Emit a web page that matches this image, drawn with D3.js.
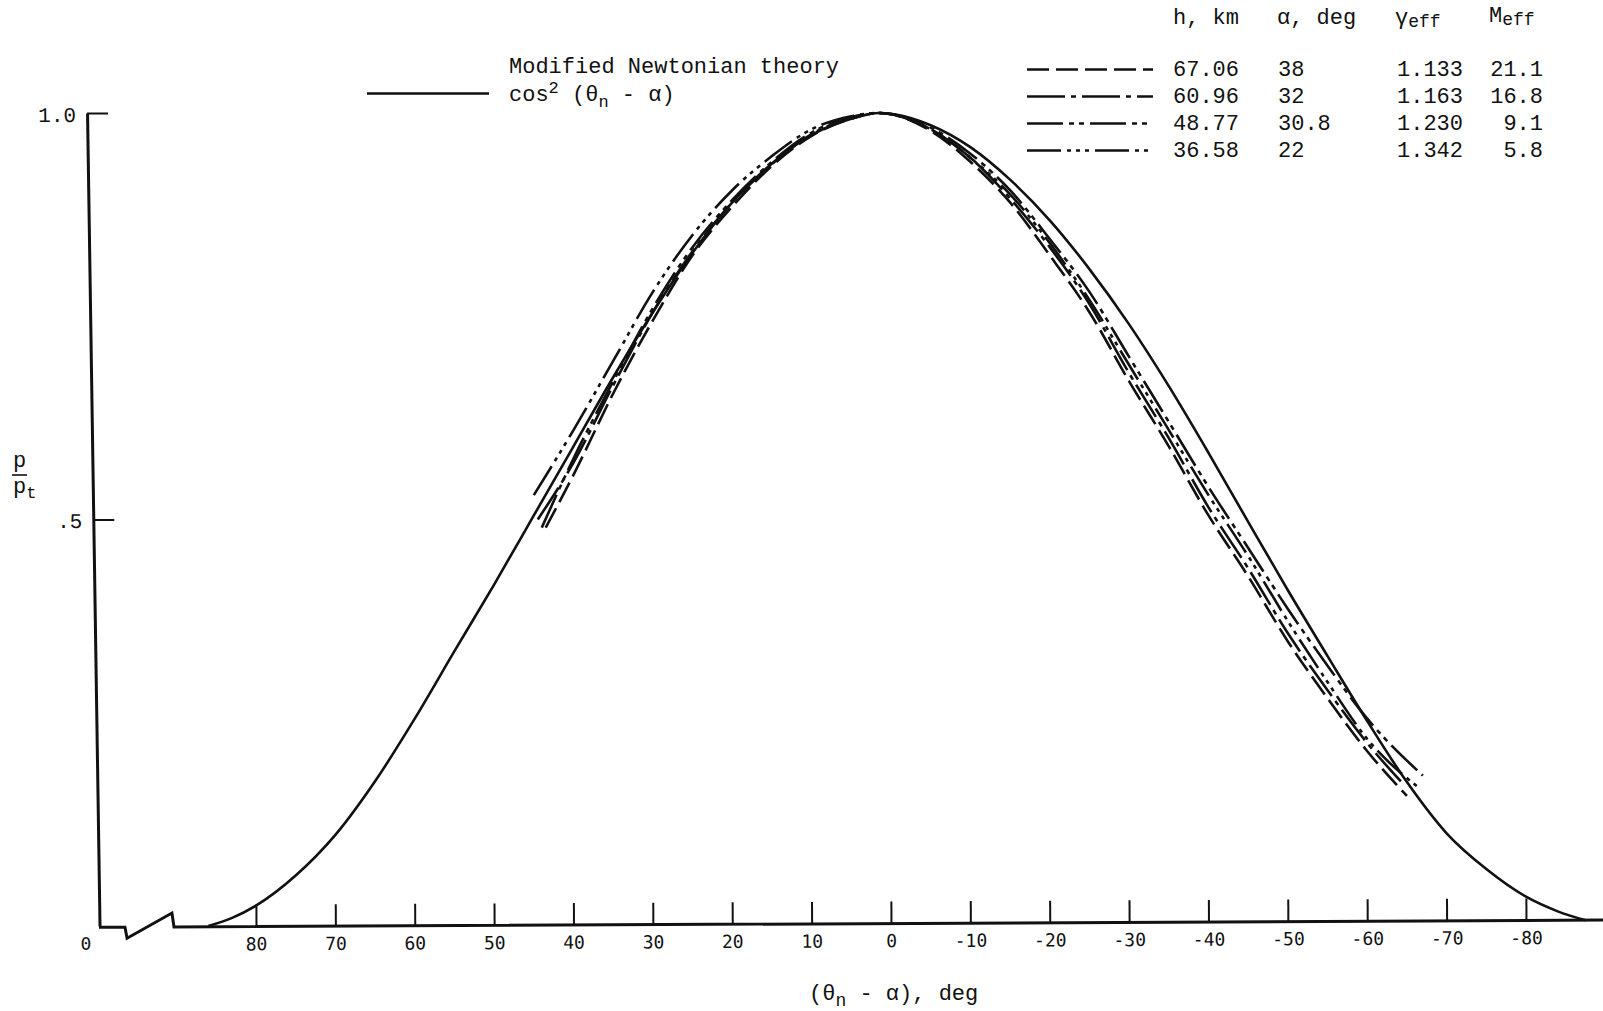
<!DOCTYPE html>
<html>
<head>
<meta charset="utf-8">
<script src="https://cdn.jsdelivr.net/npm/d3@7"></script>
<style>
  body { margin: 0; background: #fff; }
  svg { display: block; }
  .mono { font-family: "Liberation Mono", "DejaVu Sans Mono", monospace; fill: #111; }
  .xaxis text, .zero { font-family: "DejaVu Sans Mono", monospace; font-size: 18px; fill: #111; }
  .yaxis text { font-family: "Liberation Mono", monospace; font-size: 21px; fill: #111; }
  .xaxis line, .yaxis line { stroke: #111; stroke-width: 2; }
  .curve { fill: none; stroke: #111; stroke-width: 2.6; stroke-linecap: butt; }
</style>
</head>
<body>
<svg id="chart" width="1603" height="1011"></svg>
<script>
// modified newtonian, cos^2 (theta_n - alpha)
var theoryDeg = [86, 83, 80, 75, 70, 65, 60, 55, 50, 45, 40, 35, 30, 25, 20, 15, 10, 5, 1.5, -5, -10, -15, -20, -25, -30, -35, -40, -45, -50, -55, -60, -65, -70, -75, -80, -84, -87.5];
var theoryP   = [0, 0.01, 0.025, 0.062, 0.112, 0.178, 0.255, 0.338, 0.42, 0.505, 0.59, 0.675, 0.755, 0.828, 0.89, 0.938, 0.973, 0.993, 1.0, 0.985, 0.958, 0.918, 0.868, 0.808, 0.74, 0.664, 0.582, 0.497, 0.413, 0.332, 0.252, 0.177, 0.114, 0.07, 0.036, 0.018, 0.007];

// measured runs
var degS1 = [43.5, 40, 35, 30, 25, 20, 15, 10, 5, 1.5, -5, -10, -15, -20, -25, -30, -35, -40, -45, -50, -55, -60, -65];
var pS1   = [0.49, 0.555, 0.655, 0.745, 0.825, 0.885, 0.935, 0.972, 0.993, 1.0, 0.978, 0.94, 0.89, 0.825, 0.755, 0.67, 0.59, 0.505, 0.43, 0.35, 0.28, 0.215, 0.16];
var degS2 = [44.5, 40, 35, 30, 25, 20, 15, 10, 5, 1.5, -5, -10, -15, -20, -25, -30, -35, -40, -45, -50, -55, -60, -64.5];
var pS2   = [0.5, 0.57, 0.665, 0.755, 0.83, 0.89, 0.937, 0.974, 0.994, 1.0, 0.98, 0.945, 0.895, 0.835, 0.765, 0.68, 0.6, 0.515, 0.44, 0.36, 0.29, 0.225, 0.175];
var degS3 = [44, 40, 35, 30, 25, 20, 15, 10, 5, 1.5, -5, -10, -15, -20, -25, -30, -35, -40, -45, -50, -55, -60, -67];
var pS3   = [0.49, 0.575, 0.67, 0.76, 0.835, 0.893, 0.94, 0.976, 0.995, 1.0, 0.982, 0.95, 0.905, 0.845, 0.78, 0.7, 0.62, 0.54, 0.465, 0.39, 0.32, 0.255, 0.185];
var degS4 = [45, 40, 35, 30, 25, 20, 15, 10, 5, 1.5, -5, -10, -15, -20, -25, -30, -35, -40, -45, -50, -55, -60, -66.5];
var pS4   = [0.53, 0.61, 0.695, 0.78, 0.85, 0.905, 0.947, 0.98, 0.996, 1.0, 0.98, 0.945, 0.9, 0.84, 0.77, 0.69, 0.61, 0.53, 0.455, 0.375, 0.3, 0.23, 0.17];

var altitudes = ["67.06", "60.96", "48.77", "36.58"];
var alphas    = ["38", "32", "30.8", "22"];
var gammas    = ["1.133", "1.163", "1.230", "1.342"];
var machs     = ["21.1", "16.8", "9.1", "5.8"];

var xTicks = [80, 70, 60, 50, 40, 30, 20, 10, 0, -10, -20, -30, -40, -50, -60, -70, -80];
var yTicks = [0.5, 1.0];

var dashes = ["22,7", "38,6,5,6", "36,6,5,5,5,6", "34,6,4,5,4,5,4,6"];

var svg = d3.select("#chart");

var x = d3.scaleLinear().domain([80, -80]).range([256, 1526]);
var y = d3.scaleLinear().domain([0, 1]).range([926, 113]);

var line = d3.line()
  .x(function (d) { return x(d[0]); })
  .y(function (d) { return y(d[1]); })
  .curve(d3.curveMonotoneX);

// x axis, drawn a hair off level like the original sheet
var gx = svg.append("g")
  .attr("class", "xaxis")
  .attr("transform", "translate(0,927) rotate(-0.28,175,0)");

gx.call(d3.axisBottom(x)
    .tickValues(xTicks)
    .tickFormat(function (d) { return String(d); })
    .tickSizeInner(-22)
    .tickSizeOuter(0)
    .tickPadding(11))
  .select(".domain").remove();

gx.append("path")
  .attr("d", "M99,0H125L127,11L172,-14L174,0H1603")
  .attr("fill", "none")
  .attr("stroke", "#111")
  .attr("stroke-width", 3)
  .attr("stroke-linejoin", "miter");

svg.append("text")
  .attr("class", "zero")
  .attr("x", 86).attr("y", 950)
  .attr("text-anchor", "middle")
  .text("0");

// y axis, slightly leaning
var gy = svg.append("g")
  .attr("class", "yaxis")
  .attr("transform", "translate(85.3,0) skewX(0.88)");

gy.call(d3.axisLeft(y)
    .tickValues(yTicks)
    .tickFormat(function (d) { return d === 1 ? "1.0" : ".5"; })
    .tickSizeInner(-21)
    .tickSizeOuter(0)
    .tickPadding(11));
gy.select(".domain").attr("stroke", "#111").attr("stroke-width", 3);
gy.selectAll(".tick text").attr("dy", "0.4em");

// y label  p / p_t
var yl = svg.append("g").attr("class", "mono").style("font-size", "22px");
yl.append("text").attr("x", 13).attr("y", 467).text("p");
yl.append("line").attr("x1", 12).attr("x2", 27).attr("y1", 475).attr("y2", 475)
  .attr("stroke", "#111").attr("stroke-width", 1.6);
var pt = yl.append("text").attr("x", 13).attr("y", 493);
pt.append("tspan").text("p");
pt.append("tspan").attr("dy", 5).style("font-size", "17px").text("t");

// x label
var xl = svg.append("text").attr("class", "mono").style("font-size", "22px")
  .attr("x", 809).attr("y", 1000);
xl.append("tspan").text("(\u03b8");
xl.append("tspan").attr("dy", 6).style("font-size", "18px").text("n");
xl.append("tspan").attr("dy", -6).text(" - \u03b1), deg");

// curves
svg.append("path")
  .datum(d3.zip(theoryDeg, theoryP))
  .attr("class", "curve")
  .attr("d", line);

var runDeg = [degS1, degS2, degS3, degS4];
var runP = [pS1, pS2, pS3, pS4];

svg.selectAll("path.run")
  .data(d3.range(4))
  .enter().append("path")
  .attr("class", "curve run")
  .attr("stroke-dasharray", function (i) { return dashes[i]; })
  .attr("d", function (i) { return line(d3.zip(runDeg[i], runP[i])); });

// legend: theory
svg.append("line")
  .attr("x1", 367).attr("x2", 489).attr("y1", 93.5).attr("y2", 93.5)
  .attr("stroke", "#111").attr("stroke-width", 2.6);
var lg = svg.append("g").attr("class", "mono").style("font-size", "22px");
lg.append("text").attr("x", 509).attr("y", 73).text("Modified Newtonian theory");
var cosT = lg.append("text").attr("x", 509).attr("y", 101);
cosT.append("tspan").text("cos");
cosT.append("tspan").attr("dy", -8).style("font-size", "17px").text("2");
cosT.append("tspan").attr("dy", 8).text(" (\u03b8");
cosT.append("tspan").attr("dy", 6).style("font-size", "17px").text("n");
cosT.append("tspan").attr("dy", -6).text(" - \u03b1)");

// legend: runs table
var tb = svg.append("g").attr("class", "mono").style("font-size", "22px");
tb.append("text").attr("x", 1173).attr("y", 24).text("h, km");
tb.append("text").attr("x", 1277).attr("y", 24).text("\u03b1, deg");
var gh = tb.append("text").attr("x", 1395).attr("y", 24);
gh.append("tspan").text("\u03b3");
gh.append("tspan").attr("dy", 3).style("font-size", "18px").text("eff");
var mh = tb.append("text").attr("x", 1489).attr("y", 22);
mh.append("tspan").text("M");
mh.append("tspan").attr("dy", 3).style("font-size", "18px").text("eff");

var rowY = d3.scaleLinear().domain([0, 3]).range([76, 157]);

var rows = tb.selectAll("g.row")
  .data(d3.range(4))
  .enter().append("g")
  .attr("class", "row")
  .attr("transform", function (i) { return "translate(0," + rowY(i) + ")"; });

rows.append("line")
  .attr("x1", 1027).attr("x2", 1153).attr("y1", -6.5).attr("y2", -6.5)
  .attr("stroke", "#111").attr("stroke-width", 2.6)
  .attr("stroke-dasharray", function (i) { return dashes[i]; });
rows.append("text").attr("x", 1173).text(function (i) { return altitudes[i]; });
rows.append("text").attr("x", 1278).text(function (i) { return alphas[i]; });
rows.append("text").attr("x", 1397).text(function (i) { return gammas[i]; });
rows.append("text").attr("x", 1543).attr("text-anchor", "end").text(function (i) { return machs[i]; });
</script>
</body>
</html>
